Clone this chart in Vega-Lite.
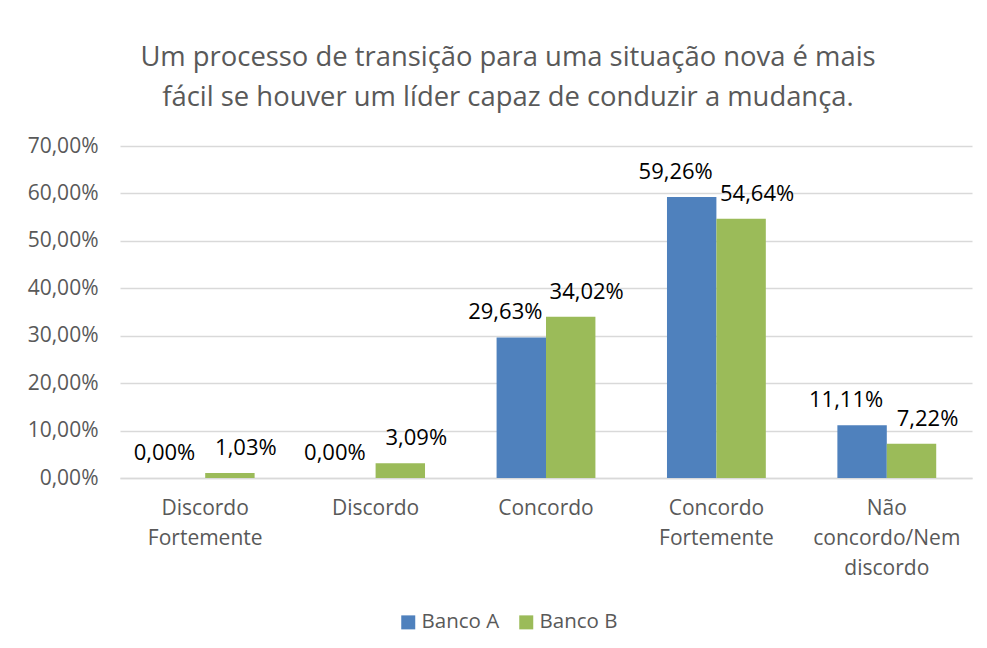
{
  "$schema": "https://vega.github.io/schema/vega-lite/v6.json",
  "width": 852,
  "height": 332,
  "autosize": {"type": "none"},
  "padding": {"left": 120, "top": 146, "right": 15, "bottom": 170},
  "background": "white",
  "title": {
    "text": ["Um processo de transição para uma situação nova é mais", "fácil se houver um líder capaz de conduzir a mudança."],
    "anchor": "middle",
    "frame": "group",
    "dx": -38,
    "fontSize": 27.4,
    "font": "Open Sans",
    "fontWeight": "normal",
    "color": "#595959",
    "lineHeight": 40,
    "offset": 24
  },
  "data": {
    "values": [
      {"categoria": "Discordo Fortemente", "banco": "Banco A", "valor": 0.0},
      {"categoria": "Discordo Fortemente", "banco": "Banco B", "valor": 0.0103},
      {"categoria": "Discordo", "banco": "Banco A", "valor": 0.0},
      {"categoria": "Discordo", "banco": "Banco B", "valor": 0.0309},
      {"categoria": "Concordo", "banco": "Banco A", "valor": 0.2963},
      {"categoria": "Concordo", "banco": "Banco B", "valor": 0.3402},
      {"categoria": "Concordo Fortemente", "banco": "Banco A", "valor": 0.5926},
      {"categoria": "Concordo Fortemente", "banco": "Banco B", "valor": 0.5464},
      {"categoria": "Não concordo/Nem discordo", "banco": "Banco A", "valor": 0.1111},
      {"categoria": "Não concordo/Nem discordo", "banco": "Banco B", "valor": 0.0722}
    ]
  },
  "encoding": {
    "x": {
      "field": "categoria",
      "type": "nominal",
      "sort": ["Discordo Fortemente", "Discordo", "Concordo", "Concordo Fortemente", "Não concordo/Nem discordo"],
      "scale": {"paddingInner": 0.42, "paddingOuter": 0.21},
      "axis": {
        "title": null,
        "labelAngle": 0,
        "ticks": false,
        "labelPadding": 19,
        "labelFontSize": 21,
        "labelFont": "Open Sans",
        "labelColor": "#595959",
        "labelLineHeight": 30,
        "labelBaseline": "top",
        "domainColor": "#D9D9D9",
        "domainWidth": 1.5,
        "grid": false,
        "labelExpr": "datum.value == 'Discordo Fortemente' ? ['Discordo', 'Fortemente'] : datum.value == 'Concordo Fortemente' ? ['Concordo', 'Fortemente'] : datum.value == 'Não concordo/Nem discordo' ? ['Não', 'concordo/Nem', 'discordo'] : datum.value"
      }
    },
    "xOffset": {"field": "banco", "type": "nominal", "sort": ["Banco A", "Banco B"]},
    "y": {
      "field": "valor",
      "type": "quantitative",
      "scale": {"domain": [0, 0.7]},
      "axis": {
        "title": null,
        "values": [0, 0.1, 0.2, 0.3, 0.4, 0.5, 0.6, 0.7],
        "format": ".2%",
        "domain": false,
        "ticks": false,
        "labelPadding": 22,
        "labelFontSize": 21,
        "labelFont": "Open Sans",
        "labelColor": "#595959",
        "gridColor": "#D9D9D9",
        "gridWidth": 1.5
      }
    }
  },
  "layer": [
    {
      "mark": {"type": "bar"},
      "encoding": {
        "color": {
          "field": "banco",
          "type": "nominal",
          "scale": {"domain": ["Banco A", "Banco B"], "range": ["#4F81BD", "#9BBB59"]},
          "legend": {
            "title": null,
            "orient": "none",
            "direction": "horizontal",
            "legendX": 278,
            "legendY": 466,
            "symbolType": "square",
            "symbolSize": 196,
            "symbolStrokeWidth": 0,
            "labelFontSize": 20.5,
            "labelFont": "Open Sans",
            "labelColor": "#595959",
            "columnPadding": 16,
            "labelOffset": 3
          }
        }
      }
    },
    {
      "transform": [{"filter": "datum.banco == 'Banco A'"}],
      "mark": {"type": "text", "baseline": "alphabetic", "dy": -18, "dx": -16, "fontSize": 22, "font": "Open Sans", "color": "#000000"},
      "encoding": {
        "text": {"field": "valor", "type": "quantitative", "format": ".2%"}
      }
    },
    {
      "transform": [{"filter": "datum.banco == 'Banco B'"}],
      "mark": {"type": "text", "baseline": "alphabetic", "dy": -18, "dx": 16, "fontSize": 22, "font": "Open Sans", "color": "#000000"},
      "encoding": {
        "text": {"field": "valor", "type": "quantitative", "format": ".2%"}
      }
    }
  ],
  "config": {
    "locale": {
      "number": {"decimal": ",", "thousands": ".", "grouping": [3], "currency": ["R$", ""]}
    },
    "view": {"stroke": null}
  }
}
